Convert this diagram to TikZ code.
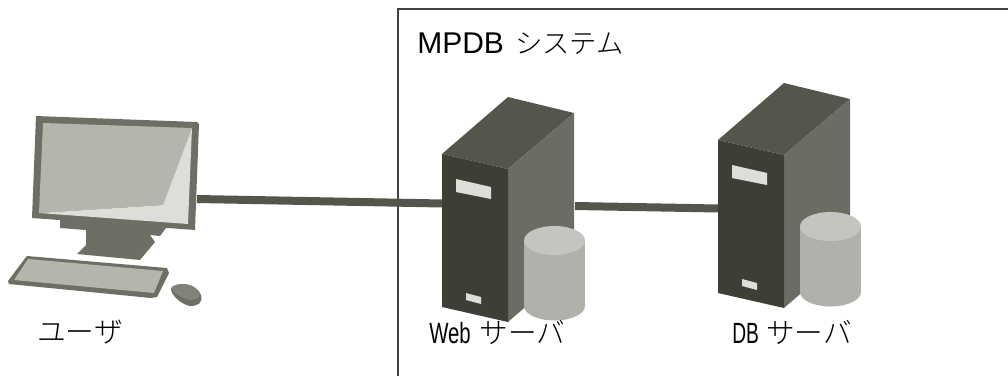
\documentclass[tikz,border=0pt]{standalone}
\usepackage{fontspec}
\usepackage{graphicx}
\setmainfont{Noto Sans CJK JP}[UprightFont=* Light]
\newfontfamily\latinfont{Liberation Sans}
\definecolor{srvdark}{HTML}{3F3E36}
\definecolor{srvtop}{HTML}{56554C}
\definecolor{srvside}{HTML}{6D6C63}
\definecolor{cable}{HTML}{56554C}
\definecolor{dbbody}{HTML}{B0B1AB}
\definecolor{dbtop}{HTML}{C4C5C0}
\definecolor{pale}{HTML}{DDDDD9}
\definecolor{screen}{HTML}{B5B5AD}
\definecolor{framec}{HTML}{6F6E65}
\tikzset{
  cableline/.style={draw=cable,line width=6pt},
  label/.style={inner sep=0pt,anchor=base west,text=black,font=\fontsize{21.5}{21.5}\selectfont},
}
\newcommand{\drawserver}[2]{%
  \begin{scope}[shift={(#1,#2)}]
    \fill[srvtop] (0,0) -- (66,-57) -- (132,-41) -- (66,15) -- cycle;
    \fill[srvside] (66,15) -- (132,-41) -- (132,111) -- (66,168) -- cycle;
    \fill[srvdark] (0,0) -- (66,15) -- (66,168) -- (0,153) -- cycle;
    \fill[pale] (14,25) -- (49,33) -- (49,45) -- (14,38) -- cycle;
    \fill[pale] (24,139) -- (39,143) -- (39,150) -- (24,146) -- cycle;
    \fill[dbbody] (82,86.5) rectangle (143,152);
    \fill[dbbody] (112.5,152) ellipse[x radius=30.5,y radius=14.5];
    \fill[dbtop] (112.5,86.5) ellipse[x radius=30.5,y radius=14.5];
  \end{scope}}
\begin{document}
\begin{tikzpicture}[x=0.75pt,y=-0.75pt]
\useasboundingbox (0,0) rectangle (1008,376);
\fill[white] (0,0) rectangle (1008,376);
\draw[draw=black!75,line width=1.2pt] (398,376) -- (398,9) -- (1008,9);
\node[label] (title) at (417,53) {{\fontsize{22.5}{22.5}\selectfont\latinfont MPDB}\hspace{8.5pt}{\fontsize{20.5}{20.5}\selectfont システム}};
\coordinate (pcport) at (197,199);
\coordinate (webin) at (443,203.5);
\coordinate (webout) at (575,206);
\coordinate (dbin) at (719,208.5);
\draw[cableline] (pcport) -- (webin);
\draw[cableline] (webout) -- (dbin);
% monitor
\fill[framec] (60,216) -- (127,222) -- (166,228) -- (160,236) -- (150,235) -- (155,242) -- (140,260) -- (77,254) -- (86,245) -- (86,230) -- (60,228) -- cycle;
\fill[framec] (36,116) -- (197,122) -- (199,124) -- (195,230) -- (32,218) -- cycle;
\fill[screen] (43,123) -- (192,128) -- (163,205) -- (39,213) -- cycle;
\fill[pale] (192,128) -- (188,224) -- (39,213) -- (163,205) -- cycle;
% keyboard
\fill[framec] (26,257) -- (27,256) -- (167,268) -- (169,273) -- (157,297) -- (151,298) -- (9,284) -- (8,281) -- cycle;
\fill[screen] (28,259) -- (163,271) -- (154,293) -- (14,280) -- cycle;
% mouse
\fill[framec] (171,289) .. controls (175,282) and (195,281) .. (201,295) .. controls (203,303) and (198,306) .. (190,306) .. controls (183,305) and (171,296) .. (171,289) -- cycle;
\fill[srvside!85!white] (171,288) .. controls (175,282) and (195,282) .. (200,294) .. controls (200,300) and (190,301) .. (186,299) .. controls (180,297) and (173,292) .. (171,288) -- cycle;
\drawserver{442}{154}
\drawserver{718}{140}
\node[label] (user) at (37,342) {ユーザ};
\node[label] (web) at (429,343) {\scalebox{0.71}[1.02]{\latinfont Web}\hspace{6.5pt}サーバ};
\node[label] (db) at (732,343) {\scalebox{0.67}[1.02]{\latinfont DB}\hspace{5.5pt}サーバ};
\end{tikzpicture}
\end{document}
